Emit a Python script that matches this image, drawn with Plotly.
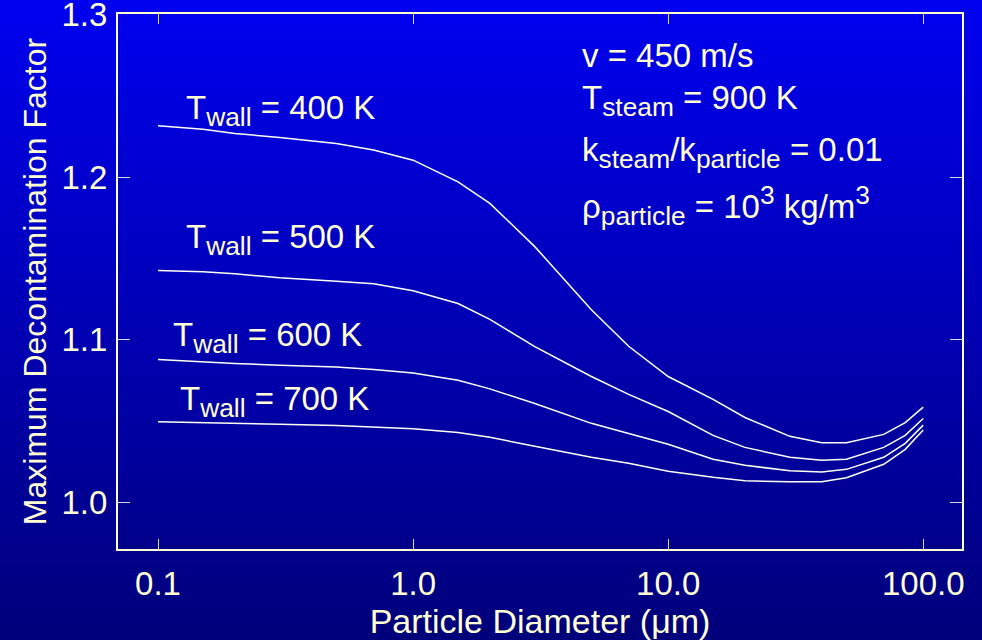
import plotly.graph_objects as go

# Particle diameter (µm) and maximum decontamination factor per wall temperature
diameter_um = [0.1, 0.15, 0.2, 0.3, 0.5, 0.7, 1.0, 1.5, 2.0, 3.0, 5.0, 7.0,
               10.0, 15.0, 20.0, 30.0, 40.0, 50.0, 70.0, 85.0, 100.0]
df_400K = [1.2315, 1.2294, 1.2268, 1.2244, 1.2207, 1.2166, 1.2104, 1.1970, 1.1838,
           1.1572, 1.1184, 1.0959, 1.0773, 1.0632, 1.0521, 1.0405, 1.0366, 1.0366,
           1.0417, 1.0489, 1.0585]
df_500K = [1.1425, 1.1417, 1.1405, 1.1380, 1.1359, 1.1344, 1.1300, 1.1222, 1.1125,
           1.0957, 1.0773, 1.0663, 1.0558, 1.0411, 1.0337, 1.0276, 1.0258, 1.0264,
           1.0337, 1.0411, 1.0515]
df_600K = [1.0877, 1.0862, 1.0853, 1.0843, 1.0831, 1.0816, 1.0795, 1.0750, 1.0697,
           1.0607, 1.0485, 1.0423, 1.0356, 1.0264, 1.0227, 1.0193, 1.0186, 1.0202,
           1.0276, 1.0362, 1.0474]
df_700K = [1.0495, 1.0488, 1.0483, 1.0479, 1.0472, 1.0463, 1.0451, 1.0429, 1.0399,
           1.0344, 1.0276, 1.0239, 1.0190, 1.0153, 1.0132, 1.0125, 1.0125, 1.0150,
           1.0233, 1.0325, 1.0444]

series = [("400", df_400K), ("500", df_500K), ("600", df_600K), ("700", df_700K)]

x_tickvals = [0.1, 1.0, 10.0, 100.0]
x_ticktext = ["0.1", "1.0", "10.0", "100.0"]
y_tickvals = [1.0, 1.1, 1.2, 1.3]

W, H = 982, 640
ML, MR, MT, MB = 118, 20, 14, 91
PW, PH = W - ML - MR, H - MT - MB

TEXT = "#FFFFD2"
CURVE = "#FFFFF0"
FONT = "Liberation Sans, Arial, sans-serif"
FS = 33


def fx(p):
    """pixel column -> paper x"""
    return (p - ML) / PW


def fy(p):
    """pixel row -> paper y"""
    return (H - MB - p) / PH


def sub(s):
    # slightly larger sub-/superscripts than plotly's default 70 %
    return f'<sub><span style="font-size:114%">{s}</span></sub>'


def sup(s):
    return f'<sup><span style="font-size:114%">{s}</span></sup>'


fig = go.Figure()
for temp, vals in series:
    fig.add_trace(go.Scatter(
        x=diameter_um, y=vals, mode="lines", name=f"{temp} K",
        line=dict(color=CURVE, width=1.5), showlegend=False, hoverinfo="skip"))

# vertical blue gradient behind the whole figure; each band runs to the
# bottom edge so the next one overlaps it and no seams show
shapes = []
n_bands = 128
top_b, bot_b = 240, 122
for i in range(n_bands):
    p0 = i * H / n_bands
    t = (i + 0.5) / n_bands
    b = round(top_b + (bot_b - top_b) * t)
    shapes.append(dict(type="rect", xref="paper", yref="paper",
                       x0=fx(-2), x1=fx(W + 2), y0=fy(H + 2), y1=fy(p0 - (2 if i == 0 else 0)),
                       fillcolor=f"rgb(0,0,{b})", line=dict(width=0),
                       layer="below"))

annotations = []
# curve labels: (wall temperature, left px, centre px)
curve_labels = [("400", 184, 110), ("500", 184, 240), ("600", 171, 338), ("700", 178, 401)]
for temp, px, py in curve_labels:
    annotations.append(dict(text=f"T{sub('wall')} = {temp} K", xref="paper", yref="paper",
                            x=fx(px), y=fy(py), xanchor="left", yanchor="middle",
                            showarrow=False, font=dict(size=FS, color=TEXT, family=FONT)))

# operating conditions
cond_labels = [
    ("v = 450 m/s", 55),
    (f"T{sub('steam')} = 900 K", 100),
    (f"k{sub('steam')}/k{sub('particle')} = 0.01", 152),
    (f"ρ{sub('particle')} = 10{sup('3')} kg/m{sup('3')}", 206),
]
for txt, py in cond_labels:
    annotations.append(dict(text=txt, xref="paper", yref="paper", x=fx(580), y=fy(py),
                            xanchor="left", yanchor="middle", showarrow=False,
                            font=dict(size=FS, color=TEXT, family=FONT)))

axis_common = dict(
    showline=True, linecolor=TEXT, linewidth=2, mirror="ticks",
    ticks="inside", tickcolor="#D8D8E0", tickwidth=1,
    showgrid=False, zeroline=False, ticklabeloverflow="allow", automargin=False,
    tickfont=dict(size=FS, color=TEXT, family=FONT),
)

fig.update_layout(
    width=W, height=H,
    margin=dict(l=ML, r=MR, t=MT, b=MB, pad=0, autoexpand=False),
    paper_bgcolor="rgba(0,0,0,0)", plot_bgcolor="rgba(0,0,0,0)",
    font=dict(family=FONT, color=TEXT),
    shapes=shapes, annotations=annotations,
    xaxis=dict(type="log", range=[-1.157, 2.152],
               tickvals=x_tickvals, ticktext=x_ticktext, ticklen=10,
               ticklabelstandoff=4,
               title=dict(text="Particle Diameter (μm)", standoff=7,
                          font=dict(size=34, color=TEXT, family=FONT)),
               **axis_common),
    yaxis=dict(range=[0.9712, 1.3003], tickvals=y_tickvals, tickformat=".1f",
               ticklen=12, ticklabelstandoff=2,
               title=dict(text="Maximum Decontamination Factor", standoff=5,
                          font=dict(size=32, color=TEXT, family=FONT)),
               **axis_common),
)

fig.write_html("out.html")
